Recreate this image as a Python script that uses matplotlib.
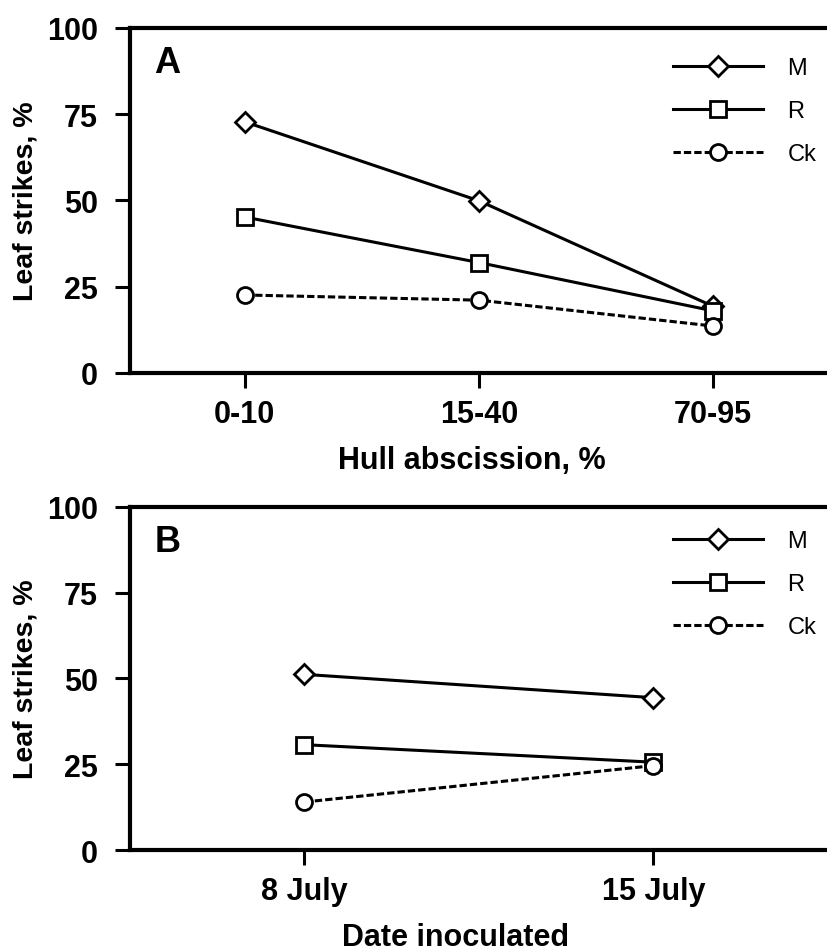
import matplotlib
matplotlib.use("Agg")
import matplotlib.pyplot as plt

plt.rcParams['font.family'] = ['Liberation Sans', 'DejaVu Sans']

# Panel A data
cats_a = ["0-10", "15-40", "70-95"]
m_a = [72.8, 49.9, 19.3]
r_a = [45.2, 32.0, 18.0]
ck_a = [22.6, 21.1, 13.6]

# Panel B data
cats_b = ["8 July", "15 July"]
m_b = [51.2, 44.4]
r_b = [30.7, 25.6]
ck_b = [14.0, 24.6]

series_names = ["M", "R", "Ck"]
yticks = [0, 25, 50, 75, 100]

fig = plt.figure(figsize=(8.28, 9.53), dpi=100)
axA = fig.add_axes([0.157, 0.6076, 0.843, 0.362])
axB = fig.add_axes([0.157, 0.107, 0.843, 0.360])

LW = 2.2
styles = [
    dict(marker='D', markersize=10, linestyle='-'),
    dict(marker='s', markersize=11.5, linestyle='-'),
    dict(marker='o', markersize=11.5, linestyle=(0, (2.4, 1.0))),
]

def draw(ax, cats, data, xlabel, panel, xlim, xlabelpad, xlabel_x, leg_anchor):
    x = list(range(len(cats)))
    handles = []
    for vals, st, name in zip(data, styles, series_names):
        ln, = ax.plot(x, vals, color='black', lw=LW, markerfacecolor='white',
                      markeredgecolor='black', markeredgewidth=2.0, label=name, **st)
        handles.append(ln)
    ax.set_xlim(*xlim)
    ax.set_ylim(0, 100)
    ax.set_yticks(yticks)
    ax.set_xticks(x)
    ax.set_xticklabels(cats)
    for s in ['left', 'bottom', 'top']:
        ax.spines[s].set_linewidth(3.0)
    ax.spines['right'].set_visible(False)
    ax.tick_params(axis='both', direction='out', length=11, width=2.2, labelsize=22)
    ax.tick_params(axis='y', pad=12)
    ax.tick_params(axis='x', pad=8)
    for lab in ax.get_xticklabels() + ax.get_yticklabels():
        lab.set_fontweight('bold')
    ax.set_ylabel("Leaf strikes, %", fontsize=20.5, fontweight='bold', labelpad=6)
    ax.set_xlabel(xlabel, fontsize=22, fontweight='bold', labelpad=xlabelpad)
    ax.xaxis.label.set_x(xlabel_x)
    ax.text(0.035, 0.90, panel, transform=ax.transAxes, fontsize=26, fontweight='bold',
            ha='left', va='center')
    leg = ax.legend(handles=handles, loc='upper right', bbox_to_anchor=leg_anchor,
                    frameon=False, fontsize=17, handlelength=3.8, labelspacing=0.88,
                    handletextpad=1.06, borderaxespad=0.0)
    return leg

draw(axA, cats_a, [m_a, r_a, ck_a], "Hull abscission, %", "A", (0.51 - 1, 2.49), 11,
     0.489, (0.997, 0.942))
draw(axB, cats_b, [m_b, r_b, ck_b], "Date inoculated", "B", (-0.5, 1.5), 11,
     0.467, (0.997, 0.959))

fig.savefig("out.png", dpi=100)
